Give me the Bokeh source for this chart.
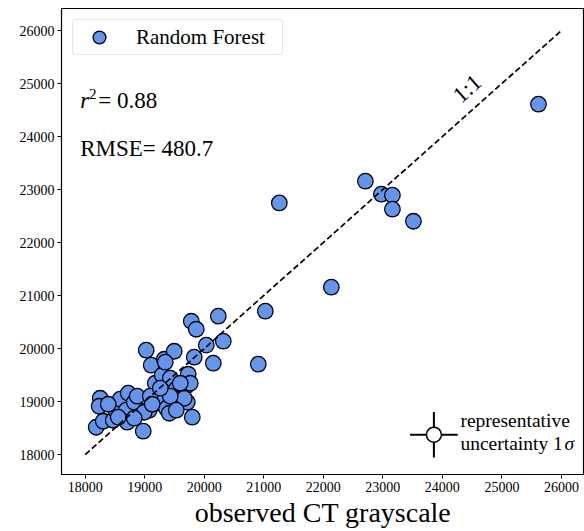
from bokeh.plotting import figure
from bokeh.models import Range1d, FixedTicker, Label, Legend, LegendItem
from bokeh.embed import file_html
from bokeh.resources import INLINE

# observed CT grayscale vs Random Forest prediction
observed = [18185, 18252, 18235, 18303, 18471, 18521, 18588, 18689, 18723, 18824,
            18706, 18975, 19025, 19109, 19076, 19177, 19294, 19328, 19429, 19496,
            19530, 19261, 19362, 19412, 19698, 19731, 19765, 19715, 19799, 19782,
            19866, 20034, 20236, 20320, 19832, 20152, 20908, 21026, 21261, 22135,
            22707, 22976, 23161, 23161, 23514, 25615, 19194, 19547, 19345, 18874,
            18387, 18992, 19597, 19664, 19429, 19093, 18555, 18824, 19261, 19126,
            19530]
predicted = [18515, 19062, 18911, 18628, 18647, 18817, 19044, 18836, 19157, 18987,
             18610, 18440, 19968, 19685, 18836, 19345, 19496, 19798, 19440, 19949,
             19232, 18968, 18874, 18779, 19289, 19515, 19345, 18987, 18704, 20515,
             20364, 20063, 20610, 20138, 19836, 19723, 19704, 20704, 22747, 21157,
             23157, 22912, 22893, 22629, 22402, 24610, 19081, 19044, 19742, 19100,
             18949, 18798, 19345, 19062, 19100, 19100, 18704, 18685, 19251, 18949,
             18836]
one_to_one = [18000, 26000]
ticks = [18000, 19000, 20000, 21000, 22000, 23000, 24000, 25000, 26000]
r2 = 0.88
rmse = 480.7
unc_x = [23858]
unc_y = [18374]
unc_sx = [400]
unc_sy = [430]

FONT = "Liberation Serif"

p = figure(width=584, height=531, output_backend="svg", toolbar_location=None,
           x_range=Range1d(17602, 26388), y_range=Range1d(17623, 26416),
           min_border_left=61, min_border_right=0, min_border_top=8,
           min_border_bottom=57)
p.grid.visible = False
p.outline_line_color = "black"
p.outline_line_width = 1.2
p.background_fill_color = "white"
p.border_fill_color = "white"

for ax in (p.xaxis[0], p.yaxis[0]):
    ax.ticker = FixedTicker(ticks=ticks)
    ax.minor_tick_line_color = None
    ax.major_tick_in = 0
    ax.major_tick_out = 4
    ax.major_label_text_font = FONT
    ax.major_label_text_font_size = "14px"
    ax.major_label_text_color = "black"
    ax.axis_line_color = "black"
    ax.major_tick_line_color = "black"
    ax.major_label_standoff = 3

p.xaxis.axis_label = "observed CT grayscale"
p.xaxis.axis_label_text_font = FONT
p.xaxis.axis_label_text_font_size = "28px"
p.xaxis.axis_label_text_font_style = "normal"
p.xaxis.axis_label_text_color = "black"
p.xaxis.axis_label_standoff = 2

pts = p.scatter(observed, predicted, size=15.5, fill_color="#6495ED",
                line_color="black", line_width=1.3)
p.line(one_to_one, one_to_one, line_color="black", line_width=1.7, line_dash="6 3")

# representative uncertainty
p.segment(x0=[unc_x[0] - unc_sx[0]], y0=unc_y, x1=[unc_x[0] + unc_sx[0]], y1=unc_y,
          line_color="black", line_width=2)
p.segment(x0=unc_x, y0=[unc_y[0] - unc_sy[0]], x1=unc_x, y1=[unc_y[0] + unc_sy[0]],
          line_color="black", line_width=2)
p.scatter(unc_x, unc_y, size=15, fill_color="white", line_color="black", line_width=1.5)

legend = Legend(items=[LegendItem(label="Random Forest", renderers=[pts])],
                location="top_left", margin=11, padding=1,
                glyph_width=50, glyph_height=32, label_standoff=12,
                label_width=145, label_height=20,
                label_text_font=FONT, label_text_font_size="21px",
                label_text_color="black",
                border_line_color="#cccccc", border_line_width=1,
                background_fill_alpha=1.0)
try:
    legend.border_radius = 4
except Exception:
    pass
p.add_layout(legend)

def lab(x, y, text, size, style="normal", angle=0, align="left", baseline="middle"):
    p.add_layout(Label(x=x, y=y, text=text, text_font=FONT, text_font_size=size,
                       text_font_style=style, angle=angle, text_align=align,
                       text_baseline=baseline, text_color="black"))

lab(17916, 24680, "r", "23px", "italic")
lab(18063, 24812, "2", "15px")
lab(18220, 24680, "= %.2f" % r2, "23px")
lab(17916, 23774, "RMSE= %.1f" % rmse, "23px")
lab(24416, 24906, "1:1", "23px", angle=0.728, align="center")
lab(24304, 18642, "representative", "19.5px")
lab(24304, 18200, "uncertainty 1", "19.5px")
lab(26052, 18200, "σ", "19.5px", "italic")

open("out.html", "w").write(file_html(p, INLINE))
